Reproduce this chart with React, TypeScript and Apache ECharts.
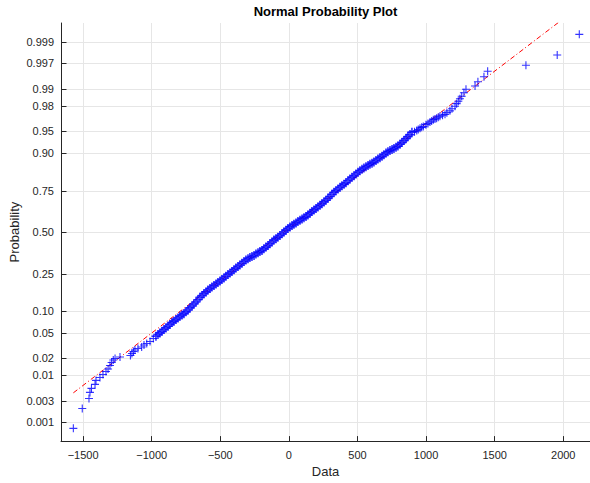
import React, { useEffect, useRef } from 'react';
import * as echarts from 'echarts';

const TITLE = 'Normal Probability Plot';
const X_NAME = 'Data';
const Y_NAME = 'Probability';

// axis ranges (data units; y in standard-normal quantile units)
const X_MIN = -1661;
const X_MAX = 2195;
const Z_MIN = -3.4;
const Z_MAX = 3.4;
const X_TICK_STEP = 500;

// probability tick labels of the normal-probability axis
const Y_TICK_LABELS = ['0.001', '0.003', '0.01', '0.02', '0.05', '0.10', '0.25', '0.50', '0.75', '0.90', '0.95', '0.98', '0.99', '0.997', '0.999'];

// points: [data value, normal quantile of plotting position]
const LOWER_TAIL: [number, number][] = [
  [-1571, -3.193], [-1506, -2.869], [-1457, -2.707], [-1450, -2.608], [-1439, -2.543],
  [-1413, -2.478], [-1406, -2.413], [-1377, -2.365], [-1355, -2.316], [-1333, -2.268],
  [-1318, -2.227], [-1304, -2.170], [-1292, -2.122], [-1280, -2.081], [-1267, -2.057],
  [-1231, -2.032], [-1155, -2.008], [-1144, -1.976], [-1133, -1.943], [-1122, -1.919],
  [-1100, -1.895], [-1073, -1.870], [-1056, -1.838], [-1036, -1.813], [-1012, -1.781],
  [-988, -1.732],
];

const MIDDLE: [number, number][] = [
  [-969, -1.695], [-954, -1.668], [-940, -1.640], [-925, -1.614], [-910, -1.586],
  [-896, -1.559], [-881, -1.533], [-867, -1.502], [-852, -1.473], [-838, -1.449],
  [-823, -1.424], [-808, -1.397], [-794, -1.371], [-779, -1.350], [-765, -1.327],
  [-750, -1.298], [-735, -1.267], [-721, -1.234], [-706, -1.202], [-692, -1.170],
  [-677, -1.137], [-663, -1.100], [-648, -1.062], [-633, -1.032], [-619, -1.002],
  [-604, -0.973], [-590, -0.942], [-575, -0.918], [-561, -0.894], [-546, -0.869],
  [-531, -0.845], [-517, -0.821], [-502, -0.796], [-488, -0.772], [-473, -0.748],
  [-459, -0.719], [-444, -0.689], [-429, -0.665], [-415, -0.641], [-400, -0.613],
  [-386, -0.586], [-371, -0.561], [-357, -0.537], [-342, -0.508], [-327, -0.480],
  [-313, -0.454], [-298, -0.435], [-284, -0.414], [-269, -0.397], [-254, -0.381],
  [-240, -0.358], [-225, -0.337], [-211, -0.318], [-196, -0.300], [-182, -0.273],
  [-167, -0.245], [-152, -0.219], [-138, -0.191], [-123, -0.162], [-109, -0.131],
  [-94, -0.107], [-80, -0.083], [-65, -0.057], [-50, -0.029], [-36, 0.000],
  [-21, 0.031], [-7, 0.057], [8, 0.084], [23, 0.105], [37, 0.128],
  [52, 0.149], [66, 0.170], [81, 0.193], [96, 0.214], [110, 0.234],
  [125, 0.251], [139, 0.279], [154, 0.307], [168, 0.333], [183, 0.360],
  [198, 0.384], [212, 0.409], [227, 0.436], [241, 0.462], [256, 0.490],
  [270, 0.517], [285, 0.548], [300, 0.579], [314, 0.613], [329, 0.647],
  [343, 0.673], [358, 0.701], [373, 0.728], [387, 0.754], [402, 0.779],
  [416, 0.803], [431, 0.834], [445, 0.863], [460, 0.891], [475, 0.916],
  [489, 0.944], [504, 0.972], [518, 0.996], [533, 1.020], [547, 1.041],
  [562, 1.062], [577, 1.082], [591, 1.101], [606, 1.121], [620, 1.139],
  [635, 1.163], [649, 1.187], [664, 1.208], [679, 1.231], [693, 1.259],
  [708, 1.285], [722, 1.306], [737, 1.325], [752, 1.341], [766, 1.358],
  [781, 1.379], [795, 1.398], [810, 1.427], [824, 1.455], [839, 1.487],
  [854, 1.520], [868, 1.552], [883, 1.585], [897, 1.625],
];

const UPPER_TAIL: [number, number][] = [
  [916, 1.633], [932, 1.650], [943, 1.669], [956, 1.690], [968, 1.703],
  [980, 1.715], [999, 1.747], [1014, 1.766], [1029, 1.788], [1041, 1.807],
  [1053, 1.828], [1065, 1.839], [1077, 1.852], [1089, 1.869], [1101, 1.885],
  [1120, 1.901], [1138, 1.914], [1152, 1.942], [1174, 1.971], [1189, 2.006],
  [1211, 2.047], [1223, 2.088], [1235, 2.128], [1247, 2.169], [1260, 2.209],
  [1276, 2.266], [1291, 2.323], [1357, 2.376], [1378, 2.444], [1422, 2.526],
  [1449, 2.615], [1728, 2.712], [1956, 2.879], [2117, 3.215],
];

// fitted reference line (normal fit) and its data span
const FIT_MEAN = -36;
const FIT_STD = 587;
const FIT_SPAN = [-1571, 2117];

const FONT = "'Liberation Sans', Arial, Helvetica, sans-serif";
const AXIS_COLOR = '#262626';
const GRID_COLOR = '#e6e6e6';
const MARK_COLOR = '#0000ff';

function probit(p: number): number {
  const a = [-3.969683028665376e1, 2.209460984245205e2, -2.759285104469687e2, 1.38357751867269e2, -3.066479806614716e1, 2.506628277459239];
  const b = [-5.447609879822406e1, 1.615858368580409e2, -1.556989798598866e2, 6.680131188771972e1, -1.328068155288572e1];
  const c = [-7.784894002430293e-3, -3.223964580411365e-1, -2.400758277161838, -2.549732539343734, 4.374664141464968, 2.938163982698783];
  const d = [7.784695709041462e-3, 3.224671290700398e-1, 2.445134137142996, 3.754408661907416];
  const pl = 0.02425;
  if (p < pl) {
    const q = Math.sqrt(-2 * Math.log(p));
    return (((((c[0] * q + c[1]) * q + c[2]) * q + c[3]) * q + c[4]) * q + c[5]) / ((((d[0] * q + d[1]) * q + d[2]) * q + d[3]) * q + 1);
  }
  if (p <= 1 - pl) {
    const q = p - 0.5;
    const r = q * q;
    return ((((((a[0] * r + a[1]) * r + a[2]) * r + a[3]) * r + a[4]) * r + a[5]) * q) / (((((b[0] * r + b[1]) * r + b[2]) * r + b[3]) * r + b[4]) * r + 1);
  }
  const q = Math.sqrt(-2 * Math.log(1 - p));
  return -(((((c[0] * q + c[1]) * q + c[2]) * q + c[3]) * q + c[4]) * q + c[5]) / ((((d[0] * q + d[1]) * q + d[2]) * q + d[3]) * q + 1);
}

const PLUS = 'path://M5,0L5,10M0,5L10,5';

export default function App() {
  const ref = useRef<HTMLDivElement>(null);

  useEffect(() => {
    if (!ref.current) return;
    const chart = echarts.init(ref.current, undefined, { renderer: 'svg' });

    const tickData = Y_TICK_LABELS.map((s, i) => [X_MIN, probit(parseFloat(s)), i]);
    const tails = [...LOWER_TAIL, ...UPPER_TAIL];
    const fitLine = FIT_SPAN.map((x) => [x, (x - FIT_MEAN) / FIT_STD]);

    chart.setOption({
      animation: false,
      backgroundColor: '#ffffff',
      title: {
        text: TITLE,
        left: 325.5,
        top: 5,
        padding: 0,
        textAlign: 'center',
        textStyle: { fontFamily: FONT, fontSize: 13, fontWeight: 'bold', color: '#000000' },
      },
      grid: { left: 61, right: 0, top: 23, bottom: 41, containLabel: false },
      xAxis: {
        type: 'value',
        min: X_MIN,
        max: X_MAX,
        minInterval: X_TICK_STEP,
        maxInterval: X_TICK_STEP,
        name: X_NAME,
        nameLocation: 'middle',
        nameGap: 22,
        nameTextStyle: { fontFamily: FONT, fontSize: 13, color: AXIS_COLOR },
        axisLine: { show: true, onZero: false, lineStyle: { color: AXIS_COLOR, width: 1 } },
        axisTick: { show: true, inside: true, length: 5, lineStyle: { color: AXIS_COLOR } },
        axisLabel: {
          showMinLabel: false,
          showMaxLabel: false,
          margin: 8,
          fontFamily: FONT,
          fontSize: 11,
          color: AXIS_COLOR,
          formatter: (v: number) => (v < 0 ? '\u2212' + Math.abs(v) : String(v)),
        },
        splitLine: { show: true, showMinLine: false, showMaxLine: false, lineStyle: { color: GRID_COLOR, width: 1 } },
      },
      yAxis: {
        type: 'value',
        min: Z_MIN,
        max: Z_MAX,
        name: Y_NAME,
        nameLocation: 'middle',
        nameGap: 40,
        nameTextStyle: { fontFamily: FONT, fontSize: 13, color: AXIS_COLOR },
        axisLine: { show: true, onZero: false, lineStyle: { color: AXIS_COLOR, width: 1 } },
        axisTick: { show: false },
        axisLabel: { show: false },
        splitLine: { show: false },
      },
      series: [
        {
          type: 'custom',
          name: 'yticks',
          silent: true,
          clip: false,
          z: 1,
          encode: { x: 0, y: 1 },
          data: tickData,
          renderItem: (params: any, api: any) => {
            const z = api.value(1) as number;
            const idx = api.value(2) as number;
            const l = api.coord([X_MIN, z]);
            const r = api.coord([X_MAX, z]);
            const y = Math.round(l[1]) + 0.5;
            return {
              type: 'group',
              children: [
                { type: 'line', shape: { x1: l[0] + 0.5, y1: y, x2: r[0], y2: y }, style: { stroke: GRID_COLOR, lineWidth: 1 } },
                { type: 'line', shape: { x1: l[0], y1: y, x2: l[0] + 5.5, y2: y }, style: { stroke: AXIS_COLOR, lineWidth: 1 } },
                {
                  type: 'text',
                  x: l[0] - 7,
                  y: l[1],
                  style: {
                    text: Y_TICK_LABELS[idx],
                    align: 'right',
                    verticalAlign: 'middle',
                    fill: AXIS_COLOR,
                    fontSize: 11,
                    fontFamily: FONT,
                  },
                },
              ],
            };
          },
        },
        {
          type: 'line',
          name: 'fit',
          silent: true,
          z: 2,
          data: fitLine,
          showSymbol: false,
          clip: true,
          lineStyle: { color: '#ff0000', width: 1, type: [5, 2.5, 1, 2.5] },
        },
        {
          type: 'scatter',
          name: 'data-middle',
          silent: true,
          z: 3,
          data: MIDDLE,
          symbol: PLUS,
          symbolSize: 9,
          itemStyle: { color: 'rgba(0,0,0,0)', borderColor: MARK_COLOR, borderWidth: 1.6 },
        },
        {
          type: 'scatter',
          name: 'data-tails',
          silent: true,
          z: 3,
          data: tails,
          symbol: PLUS,
          symbolSize: 8,
          itemStyle: { color: 'rgba(0,0,0,0)', borderColor: MARK_COLOR, borderWidth: 1.1 },
        },
      ],
    });

    return () => chart.dispose();
  }, []);

  return <div ref={ref} style={{ position: 'absolute', left: 0, top: 0, width: 590, height: 483, background: '#fff' }} />;
}
